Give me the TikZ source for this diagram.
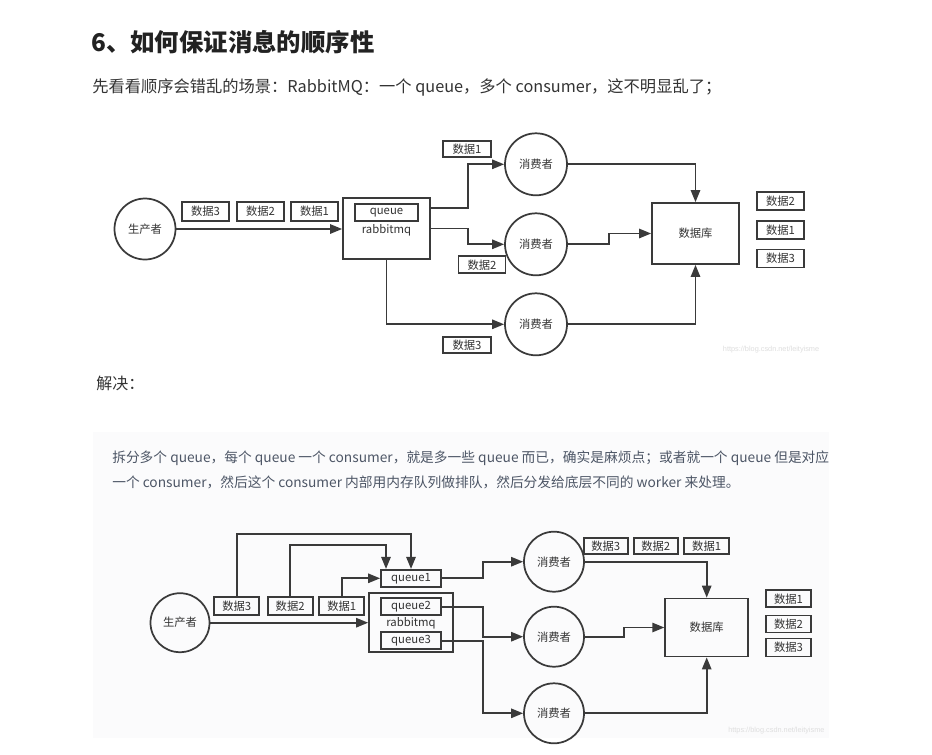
\documentclass[tikz,border=0pt]{standalone}
\usepackage{fontspec}
\setmainfont{Noto Sans CJK SC}
\newfontfamily\wmfont{Liberation Sans}
\usetikzlibrary{arrows.meta}
\definecolor{ink}{HTML}{333333}
\definecolor{ln}{HTML}{3A3A3A}
\definecolor{tc}{HTML}{222222}
\definecolor{sc}{HTML}{4D5666}
\definecolor{bgc}{HTML}{FBFBFC}
\newcommand\dfont{\fontsize{8.5}{10}\selectfont}
\begin{document}
\begin{tikzpicture}[x=0.75pt,y=-0.75pt,
  box/.style 2 args={draw=ln, line width=1.3pt, inner sep=0pt, minimum width=#1*0.75pt, minimum height=#2*0.75pt, font=\dfont, text=ink},
  circ/.style={draw=ln, line width=1.3pt, circle, inner sep=0pt, minimum size=#1*0.75pt, font=\dfont, text=ink},
  conn/.style={draw=ln, line width=1.3pt, -{Triangle[length=9pt,width=7pt]}},
  lbl/.style={font=\dfont, text=ink, inner sep=0pt},
  txt/.style={anchor=west, inner sep=0pt},
  wm/.style={anchor=west, inner sep=0pt, font=\wmfont\fontsize{5.5}{6}\selectfont, text=black!13}]
\useasboundingbox[fill=white] (0,0) rectangle (932,754);
\fill[bgc] (93,432) rectangle (829,738);

% texts
\node[txt, font=\bfseries\fontsize{18.3}{20}\selectfont, text=tc] (title) at (91,42) {6、如何保证消息的顺序性};
\node[txt, font=\fontsize{12.2}{14}\selectfont, text=ink] (sub) at (92,87) {先看看顺序会错乱的场景：RabbitMQ：一个 queue，多个 consumer，这不明显乱了；};
\node[txt, font=\fontsize{12}{14}\selectfont, text=ink] (jj) at (96,383) {解决：};
\node[txt, font=\fontsize{10.3}{12}\selectfont, text=sc] (s1) at (112,458) {拆分多个 queue，每个 queue 一个 consumer，就是多一些 queue 而已，确实是麻烦点；或者就一个 queue 但是对应};
\node[txt, font=\fontsize{10.3}{12}\selectfont, text=sc] (s2) at (112,482) {一个 consumer，然后这个 consumer 内部用内存队列做排队，然后分发给底层不同的 worker 来处理。};

% ===== diagram 1 =====
\node[circ=61] (p1) at (145,229) {生产者};
\node[box={47}{19}] (a3) at (205.5,211.5) {数据3};
\node[box={47}{19}] (a2) at (260.5,211.5) {数据2};
\node[box={47}{19}] (a1) at (314.5,211.5) {数据1};
\node[box={87}{61}] (r1) at (386.5,228.5) {};
\node[box={63}{17}] (q1) at (386.5,212.5) {queue};
\node[lbl] (r1t) at (386.5,230) {rabbitmq};
\node[circ=62] (c1) at (536,164.3) {消费者};
\node[circ=62] (c2) at (536,244.3) {消费者};
\node[circ=62] (c3) at (536,324.3) {消费者};
\node[box={48}{16}] (b1) at (467,149) {数据1};
\node[box={47}{17}] (b2) at (482,264.7) {数据2};
\node[box={48}{16}] (b3) at (467,345.3) {数据3};
\node[box={87}{61}] (db1) at (695.5,233.5) {数据库};
\node[box={47}{18}] (e2) at (780.5,200.8) {数据2};
\node[box={47}{18}] (e1) at (780.5,230) {数据1};
\node[box={47}{18}] (e3) at (780.5,258.5) {数据3};
\node[wm] (wm1) at (722.7,349.3) {https://blog.csdn.net/leityisme};

\draw[conn] (p1.east) -- (p1.east -| r1.west);
\draw[conn] (r1.east |- 0,207.7) -- (468,207.7) |- (c1.west);
\draw[conn] (r1.east) -- (468,228.5) |- (c2.west);
\draw[conn] (r1.south) |- (c3.west);
\draw[conn] (c1.east) -| (db1.north);
\draw[conn] (c2.east) -- (609,244.3) |- (db1.west);
\draw[conn] (c3.east) -| (db1.south);

% ===== diagram 2 =====
\node[circ=59] (p2) at (180,622.7) {生产者};
\node[box={45}{18}] (f3) at (236.8,606.2) {数据3};
\node[box={45}{18}] (f2) at (290.2,606.2) {数据2};
\node[box={45}{18}] (f1) at (341.8,606.2) {数据1};
\node[box={84}{59}] (r2) at (411,622.3) {};
\node[box={60}{17}] (qa) at (411,578.3) {queue1};
\node[box={60}{17}] (qb) at (411,606.7) {queue2};
\node[box={60}{17}] (qc) at (411,640.7) {queue3};
\node[lbl] (r2t) at (411,623.5) {rabbitmq};
\node[circ=60] (g1) at (554,561.7) {消费者};
\node[circ=60] (g2) at (554,636.7) {消费者};
\node[circ=60] (g3) at (554,713.3) {消费者};
\node[box={44}{16}] (h3) at (605.8,546.3) {数据3};
\node[box={44}{16}] (h2) at (655.8,546.3) {数据2};
\node[box={45}{16}] (h1) at (706.7,546.3) {数据1};
\node[box={83}{58}] (db2) at (706.7,627.5) {数据库};
\node[box={45}{17}] (k1) at (788.5,598.7) {数据1};
\node[box={45}{17}] (k2) at (788.5,624) {数据2};
\node[box={45}{18}] (k3) at (788.5,647.5) {数据3};
\node[wm] (wm2) at (728,730.7) {https://blog.csdn.net/leityisme};

\draw[conn] (f3.north) -- (236.8,534.3) -| (qa.north);
\draw[conn] (f2.north) -- (290.2,545.3) -| (qa.north -| 386,0);
\draw[conn] (f1.north) |- (qa.west);
\draw[conn] (p2.east) -- (p2.east -| r2.west);
\draw[conn] (qa.east) -- (482.7,578.3) |- (g1.west);
\draw[conn] (qb.east) -- (482.7,606.7) |- (g2.west);
\draw[conn] (qc.east) -- (482.7,640.7) |- (g3.west);
\draw[conn] (g1.east) -| (db2.north);
\draw[conn] (g2.east) -- (624.3,636.7) |- (db2.west);
\draw[conn] (g3.east) -| (db2.south);
\end{tikzpicture}
\end{document}
